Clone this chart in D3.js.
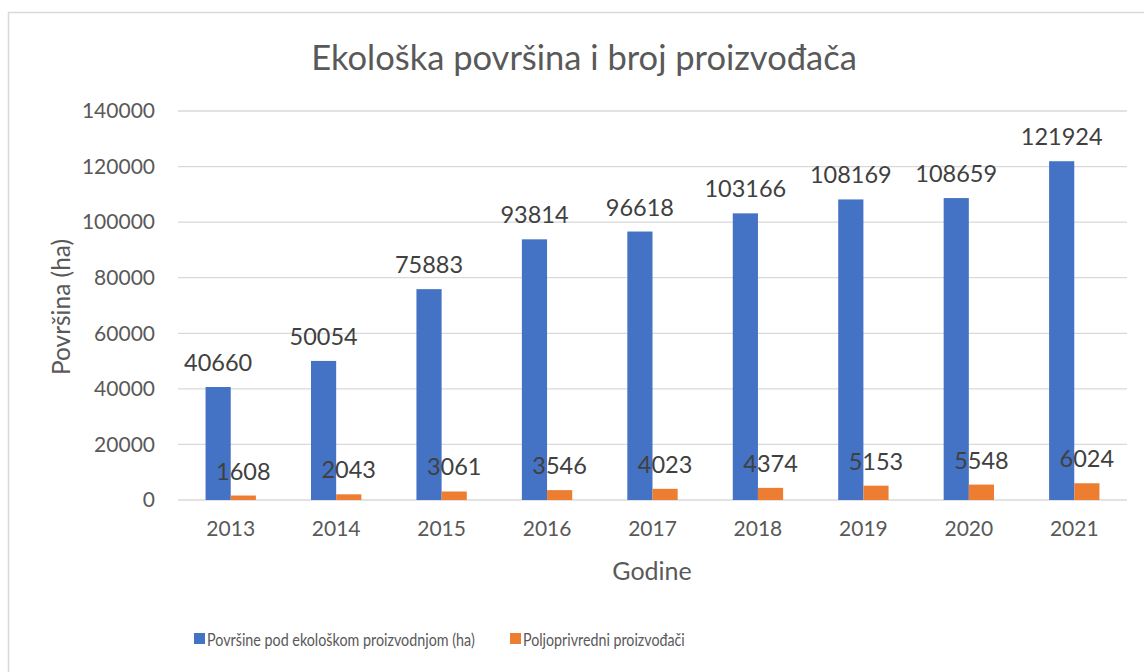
<!DOCTYPE html>
<html>
<head>
<meta charset="utf-8">
<script src="https://cdn.jsdelivr.net/npm/d3@7"></script>
<style>
	body { margin: 0; background: #fff; }
	text { font-family: Lato, "Liberation Sans", sans-serif; fill: #595959; }
</style>
</head>
<body>
<div id="chart"></div>
<script>

// chart data
const years = ["2013", "2014", "2015", "2016", "2017", "2018", "2019", "2020", "2021"];
const povrsina = [40660, 50054, 75883, 93814, 96618, 103166, 108169, 108659, 121924];
const proizvodjaci = [1608, 2043, 3061, 3546, 4023, 4374, 5153, 5548, 6024];
const seriesNames = ["Površine pod ekološkom proizvodnjom (ha)", "Poljoprivredni proizvođači"];
const seriesColors = ["#4472c4", "#ed7d31"];
const yTicks = [0, 20000, 40000, 60000, 80000, 100000, 120000, 140000];

const W = 1144, H = 672;
const margin = {top: 111, right: 17, bottom: 172, left: 178};
const width = W - margin.left - margin.right;
const height = H - margin.top - margin.bottom;

let svg = d3.select("#chart").append("svg")
	.attr("width", W)
	.attr("height", H);

// chart frame
svg.append("rect")
	.attr("x", 8.5).attr("y", 12.5)
	.attr("width", W + 20).attr("height", H + 20)
	.attr("fill", "none")
	.attr("stroke", "#d9d9d9")
	.attr("stroke-width", 1.5);

let g = svg.append("g")
	.attr("transform", "translate(" + margin.left + "," + margin.top + ")");

// scales
let x = d3.scaleBand().domain(years).range([0, width]).paddingInner(0.5226).paddingOuter(0.2613);
let x1 = d3.scaleBand().domain([0, 1]).range([0, x.bandwidth()]);
let y = d3.scaleLinear().domain([0, 140000]).range([height, 0]);

// gridlines
g.append("g")
	.selectAll("line")
	.data(yTicks)
	.enter().append("line")
	.attr("x1", 0).attr("x2", width)
	.attr("y1", d => y(d)).attr("y2", d => y(d))
	.attr("stroke", "#d9d9d9")
	.attr("stroke-width", 1.3);

// y axis
let yAxis = g.append("g")
	.call(d3.axisLeft(y).tickValues(yTicks).tickSize(0).tickPadding(23).tickFormat(d3.format("d")));
yAxis.select(".domain").remove();
yAxis.selectAll("text").style("font-size", "21px").attr("fill", "#595959");

// x axis
let xAxis = g.append("g")
	.attr("transform", "translate(0," + height + ")")
	.call(d3.axisBottom(x).tickSize(0).tickPadding(21));
xAxis.select(".domain").remove();
xAxis.selectAll("text").style("font-size", "21px").attr("fill", "#595959");

const series = [povrsina, proizvodjaci];

series.forEach(function(vals, si) {
	let grp = g.append("g");

	grp.selectAll("rect")
		.data(vals)
		.enter().append("rect")
		.attr("x", (d, i) => x(years[i]) + x1(si))
		.attr("y", d => y(d))
		.attr("width", x1.bandwidth())
		.attr("height", d => height - y(d))
		.attr("fill", seriesColors[si]);

	grp.selectAll("text")
		.data(vals)
		.enter().append("text")
		.attr("x", (d, i) => x(years[i]) + x1(si) + x1.bandwidth() / 2)
		.attr("y", d => y(d) - 16)
		.attr("text-anchor", "middle")
		.style("font-size", "23.5px")
		.style("fill", "#404040")
		.text(d => d);
});

// title
svg.append("text")
	.attr("x", 584).attr("y", 70)
	.attr("text-anchor", "middle")
	.style("font-size", "34.5px")
	.text("Ekološka površina i broj proizvođača");

// axis titles
svg.append("text")
	.attr("transform", "translate(70,307) rotate(-90)")
	.attr("text-anchor", "middle")
	.style("font-size", "24.5px")
	.text("Površina (ha)");

svg.append("text")
	.attr("x", 652).attr("y", 580)
	.attr("text-anchor", "middle")
	.style("font-size", "25px")
	.text("Godine");

// legend: Lato is wider than the original font, so squeeze each entry horizontally
const legendX = [194, 510];
const legendW = [268, 162];
let legend = svg.append("g");
seriesNames.forEach(function(name, i) {
	legend.append("rect")
		.attr("x", legendX[i]).attr("y", 633)
		.attr("width", 11).attr("height", 11)
		.attr("fill", seriesColors[i]);
	let item = legend.append("g");
	let t = item.append("text")
		.attr("x", 0).attr("y", 0)
		.style("font-size", "18px")
		.text(name);
	let sx = Math.min(1, legendW[i] / t.node().getComputedTextLength());
	item.attr("transform", "translate(" + (legendX[i] + 13) + ",646) scale(" + sx + ",1)");
});

</script>
</body>
</html>
